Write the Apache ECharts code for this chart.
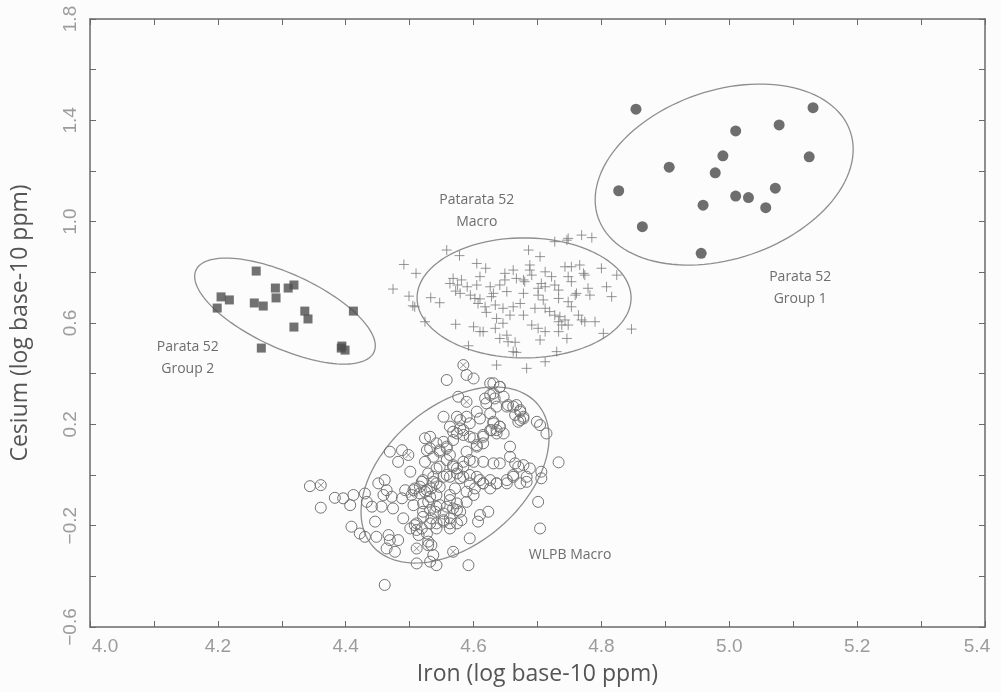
<!DOCTYPE html>
<html>
<head>
<meta charset="utf-8">
<script src="https://cdn.jsdelivr.net/npm/echarts@6/dist/echarts.min.js"></script>
<style>
html,body{margin:0;padding:0;background:#fcfcfc;}
#chart{width:1001px;height:692px;}
</style>
</head>
<body>
<div id="chart"></div>
<script>
// Parata 52 Group 1 (filled circles)
const group1 = [[4.854,1.444],[5.131,1.450],[5.010,1.358],[5.078,1.382],[4.990,1.260],[5.125,1.256],
  [4.906,1.215],[4.978,1.193],[4.827,1.122],[5.072,1.132],[5.010,1.101],[5.030,1.095],[4.959,1.065],
  [5.057,1.055],[4.864,0.980],[4.956,0.875]];
// Parata 52 Group 2 (filled squares)
const group2 = [[4.260,0.805],[4.205,0.703],[4.218,0.691],[4.199,0.659],[4.290,0.738],[4.291,0.699],
  [4.310,0.738],[4.319,0.750],[4.257,0.679],[4.271,0.667],[4.336,0.647],[4.341,0.616],[4.319,0.584],
  [4.412,0.647],[4.268,0.501],[4.393,0.501],[4.399,0.493],[4.394,0.509]];
// Patarata 52 Macro (crosses)
const macro = [[4.558,0.888],[4.578,0.866],[4.491,0.831],[4.510,0.796],[4.474,0.734],[4.499,0.706],
  [4.505,0.668],[4.508,0.664],[4.533,0.700],[4.547,0.680],[4.524,0.605],[4.572,0.595],[4.592,0.510],
  [4.605,0.835],[4.619,0.816],[4.568,0.776],[4.581,0.770],[4.563,0.756],[4.575,0.750],[4.590,0.743],
  [4.572,0.726],[4.579,0.717],[4.610,0.783],[4.605,0.750],[4.595,0.710],[4.602,0.697],[4.610,0.695],
  [4.607,0.677],[4.618,0.664],[4.620,0.642],[4.626,0.743],[4.631,0.717],[4.628,0.704],[4.634,0.671],
  [4.641,0.750],[4.649,0.796],[4.649,0.770],[4.652,0.724],[4.662,0.809],[4.667,0.776],[4.678,0.770],
  [4.673,0.677],[4.646,0.658],[4.657,0.631],[4.662,0.664],[4.678,0.631],[4.636,0.618],[4.646,0.599],
  [4.634,0.579],[4.610,0.566],[4.615,0.566],[4.600,0.585],[4.641,0.539],[4.652,0.552],[4.654,0.526],
  [4.665,0.524],[4.662,0.487],[4.667,0.484],[4.636,0.434],[4.678,0.717],
  [4.748,0.934],[4.769,0.947],[4.785,0.937],[4.727,0.921],[4.746,0.927],[4.686,0.888],[4.704,0.862],
  [4.688,0.829],[4.688,0.809],[4.691,0.789],[4.680,0.763],[4.712,0.802],[4.722,0.783],[4.743,0.822],
  [4.753,0.822],[4.766,0.829],[4.772,0.796],[4.774,0.789],[4.800,0.816],[4.824,0.789],[4.748,0.783],
  [4.753,0.763],[4.706,0.756],[4.712,0.743],[4.701,0.737],[4.727,0.750],[4.733,0.730],[4.779,0.737],
  [4.782,0.710],[4.808,0.743],[4.816,0.704],[4.759,0.710],[4.761,0.717],[4.733,0.697],[4.748,0.684],
  [4.753,0.664],[4.701,0.710],[4.709,0.691],[4.696,0.658],[4.712,0.658],[4.719,0.645],[4.727,0.631],
  [4.735,0.625],[4.743,0.612],[4.733,0.605],[4.738,0.592],[4.748,0.592],[4.769,0.612],[4.774,0.605],
  [4.790,0.605],[4.764,0.631],[4.691,0.592],[4.701,0.579],[4.712,0.566],[4.704,0.533],[4.746,0.539],
  [4.733,0.566],[4.803,0.559],[4.847,0.576],[4.730,0.487],[4.712,0.447],[4.683,0.421]];
// WLPB Macro (open circles)
const wlpb = [[4.344,-0.044],[4.361,-0.129],[4.383,-0.090],[4.396,-0.092],[4.412,-0.079],
  [4.407,-0.119],[4.430,-0.073],[4.441,-0.125],[4.446,-0.184],[4.433,-0.106],[4.409,-0.204],[4.422,-0.231],
  [4.430,-0.244],[4.448,-0.244],[4.464,-0.290],[4.477,-0.303],[4.467,-0.237],[4.469,-0.257],[4.482,-0.257],
  [4.511,-0.349],[4.461,-0.434],[4.469,0.092],[4.488,0.098],[4.482,0.052],[4.501,0.013],
  [4.451,-0.033],[4.461,-0.020],[4.464,-0.060],[4.459,-0.079],[4.472,-0.086],[4.456,-0.125],[4.474,-0.132],
  [4.488,-0.092],[4.493,-0.060],[4.490,-0.171],[4.506,-0.119],[4.501,-0.211],[4.508,-0.198],
  [4.514,-0.237],[4.519,-0.211],[4.529,-0.277],[4.532,-0.342],[4.524,0.145],[4.532,0.105],
  [4.524,0.052],[4.529,0.006],[4.519,-0.027],[4.524,-0.066],[4.534,-0.053],[4.529,-0.106],[4.521,-0.145],
  [4.534,-0.171],[4.529,-0.263],[4.508,-0.053],[4.516,-0.073],
  [4.589,0.395],[4.600,0.381],[4.558,0.375],[4.631,0.362],[4.641,0.348],[4.626,0.316],[4.618,0.302],
  [4.633,0.302],[4.576,0.309],[4.654,0.276],[4.667,0.276],[4.673,0.250],[4.665,0.237],[4.678,0.223],
  [4.670,0.210],[4.553,0.230],[4.631,0.210],[4.641,0.191],[4.628,0.177],[4.636,0.164],[4.699,0.210],
  [4.704,0.197],[4.714,0.164],[4.605,0.250],[4.610,0.223],[4.594,0.204],[4.579,0.184],[4.568,0.171],
  [4.584,0.158],[4.600,0.145],[4.615,0.158],[4.615,0.125],[4.589,0.092],[4.584,0.052],
  [4.600,0.052],[4.553,0.131],[4.547,0.092],[4.563,0.079],[4.542,0.026],[4.574,0.026],[4.558,0.000],
  [4.579,-0.013],[4.594,0.000],[4.615,0.052],[4.631,0.046],[4.641,0.046],[4.657,0.112],[4.657,0.072],
  [4.665,0.046],[4.670,0.033],[4.678,0.039],[4.688,0.026],[4.683,-0.027],[4.706,0.013],[4.706,-0.013],
  [4.733,0.050],[4.662,0.000],[4.652,-0.020],[4.636,-0.033],[4.626,-0.053],[4.615,-0.033],[4.610,-0.020],
  [4.602,-0.053],[4.589,-0.066],[4.600,-0.079],[4.571,-0.053],[4.563,-0.079],[4.542,-0.079],[4.547,-0.119],
  [4.579,-0.145],[4.563,-0.171],[4.581,-0.178],[4.553,-0.184],[4.542,-0.211],[4.563,-0.211],
  [4.574,-0.191],[4.610,-0.158],[4.623,-0.145],[4.607,-0.184],[4.594,-0.250],[4.537,-0.316],
  [4.542,-0.356],[4.592,-0.356],[4.701,-0.106],[4.704,-0.211],[4.534,-0.277],[4.537,-0.027],
  [4.547,-0.047],[4.540,-0.145],[4.589,-0.106],[4.558,0.105],[4.568,0.039],
  [4.532,0.151],[4.542,0.125],[4.527,0.098],[4.537,0.072],[4.547,0.098],[4.558,0.112],[4.568,0.138],
  [4.574,0.164],[4.584,0.177],[4.579,0.217],[4.589,0.230],[4.574,0.230],[4.563,0.191],[4.558,0.059],
  [4.568,0.033],[4.584,0.033],[4.594,0.059],[4.605,0.112],[4.594,0.151],[4.615,0.151],[4.626,0.177],
  [4.636,0.177],[4.631,0.204],[4.641,0.191],[4.647,0.164],[4.626,0.243],[4.620,0.283],[4.636,0.270],
  [4.631,0.322],[4.626,0.362],[4.641,0.348],[4.647,0.309],[4.652,0.270],[4.662,0.270],[4.673,0.256],
  [4.673,0.217],[4.678,0.230],[4.506,-0.060],[4.516,-0.046],[4.527,-0.060],[4.532,-0.086],[4.542,-0.033],
  [4.553,-0.007],[4.563,-0.007],[4.574,0.006],[4.584,-0.007],[4.521,-0.112],[4.532,-0.138],[4.542,-0.125],
  [4.553,-0.152],[4.563,-0.099],[4.574,-0.112],[4.511,-0.191],[4.521,-0.165],[4.532,-0.191],[4.542,-0.191],
  [4.553,-0.178],[4.563,-0.191],[4.574,-0.138],[4.511,-0.217],[4.527,-0.231],[4.558,-0.125],[4.537,-0.007],
  [4.547,0.033],[4.521,-0.020],[4.615,-0.033],[4.626,-0.020],[4.605,-0.007],[4.594,-0.033],[4.636,-0.033],
  [4.652,-0.033],[4.662,-0.007],[4.673,-0.033],[4.683,-0.007]];
// WLPB Macro, crossed circles
const wlpbCrossed = [[4.361,-0.040],[4.498,0.079],[4.511,-0.290],[4.584,0.434],[4.589,0.289],
  [4.605,0.118],[4.568,-0.132],[4.568,-0.303],[4.503,-0.079]];
// Group ellipses: centre (x, y) and two conjugate semi-axis vectors in data units
const ellipses = [
  [4.992, 1.186, 0.1973, 0.1694, 0.0424, -0.3146],
  [4.305, 0.647, 0.1392, -0.1619, -0.0242, -0.1326],
  [4.679, 0.699, 0.1674, 0.0, 0.0, -0.2369],
  [4.571, 0.000, 0.1292, 0.2795, 0.0702, -0.2065]
];
// Group labels: x, y, text
const labels = [
  [4.605, 1.042, 'Patarata 52\nMacro'],
  [5.111, 0.738, 'Parata 52\nGroup 1'],
  [4.153, 0.462, 'Parata 52\nGroup 2'],
  [4.751, -0.316, 'WLPB Macro']
];
const xTicks = {min: 4.0, max: 5.4, step: 0.1};
const yTicks = {min: -0.6, max: 1.8, step: 0.2};

const chart = echarts.init(document.getElementById('chart'), null, {renderer: 'canvas'});
const tickFont = 'Liberation Sans';
const tickCol = '#9c9c9c';
const lineCol = '#6a6a6a';
function xAxisBase(pos) {
  return {
    type: 'value', position: pos, min: xTicks.min, max: xTicks.max, interval: xTicks.step,
    axisLine: {show: true, onZero: false, lineStyle: {color: lineCol, width: 1.5}},
    axisTick: {show: true, inside: true, length: 6, lineStyle: {color: lineCol, width: 1}},
    splitLine: {show: false}
  };
}
function yAxisBase(pos) {
  return {
    type: 'value', position: pos, min: yTicks.min, max: yTicks.max, interval: yTicks.step,
    axisLine: {show: true, onZero: false, lineStyle: {color: lineCol, width: 1.5}},
    axisTick: {show: true, inside: true, length: 6, lineStyle: {color: lineCol, width: 1}},
    splitLine: {show: false}
  };
}
const xb = xAxisBase('bottom');
xb.axisLabel = {
  color: tickCol, fontSize: 19, fontFamily: tickFont, margin: 10,
  formatter: v => {
    if (Math.round((v - xTicks.min) * 10) % 2 !== 0) return '';
    if (Math.abs(v - xTicks.min) < 1e-9) return '{first|' + v.toFixed(1) + '}';
    if (Math.abs(v - xTicks.max) < 1e-9) return '{last|' + v.toFixed(1) + '}';
    return v.toFixed(1);
  },
  rich: {
    first: {color: tickCol, fontSize: 19, fontFamily: tickFont, padding: [0, 0, 0, 30]},
    last: {color: tickCol, fontSize: 19, fontFamily: tickFont, padding: [0, 16, 0, 0]}
  }
};
xb.name = 'Iron (log base-10 ppm)';
xb.nameLocation = 'middle';
xb.nameGap = 36;
xb.nameTextStyle = {color: '#555', fontSize: 23, fontFamily: 'Open Sans'};
const xt = xAxisBase('top'); xt.axisLabel = {show: false};
const yl = yAxisBase('left');
yl.axisLabel = {
  color: tickCol, fontSize: 19, fontFamily: tickFont, rotate: 90, margin: 10,
  formatter: v => (Math.round((v - yTicks.min) * 10) % 4 === 0 ? v.toFixed(1).replace('-', '\u2212') : '')
};
yl.name = 'Cesium (log base-10 ppm)';
yl.nameLocation = 'middle';
yl.nameGap = 58;
yl.nameTextStyle = {color: '#555', fontSize: 23, fontFamily: 'Open Sans'};
const yr = yAxisBase('right'); yr.axisLabel = {show: false};

const markCol = '#747474';
chart.setOption({
  backgroundColor: '#fcfcfc',
  animation: false,
  grid: {left: 90, right: 16, top: 19, bottom: 65, containLabel: false},
  xAxis: [xb, xt],
  yAxis: [yl, yr],
  series: [
    {
      type: 'custom', xAxisIndex: 0, yAxisIndex: 0, data: ellipses, silent: true,
      dimensions: ['cx','cy','ux','uy','vx','vy'], encode: {x: 0, y: 1},
      renderItem: (params, api) => {
        const cx = api.value(0), cy = api.value(1), ux = api.value(2), uy = api.value(3), vx = api.value(4), vy = api.value(5);
        const pts = [];
        for (let i = 0; i < 120; i++) {
          const t = i / 120 * Math.PI * 2, c = Math.cos(t), s = Math.sin(t);
          pts.push(api.coord([cx + ux * c + vx * s, cy + uy * c + vy * s]));
        }
        return {type: 'polygon', shape: {points: pts}, style: {fill: 'none', stroke: '#8e8e8e', lineWidth: 1.3}};
      }
    },
    {
      type: 'scatter', data: wlpb.concat(wlpbCrossed), symbol: 'circle', symbolSize: 11,
      itemStyle: {color: 'rgba(0,0,0,0)', borderColor: markCol, borderWidth: 1, opacity: 1}
    },
    {
      type: 'scatter', data: wlpbCrossed, symbol: 'path://M0,0L10,10M10,0L0,10', symbolSize: 6,
      itemStyle: {color: 'rgba(0,0,0,0)', borderColor: markCol, borderWidth: 1}
    },
    {
      type: 'scatter', data: macro, symbol: 'path://M0,5L10,5M5,0L5,10', symbolSize: 10,
      itemStyle: {color: 'rgba(0,0,0,0)', borderColor: '#7a7a7a', borderWidth: 1}
    },
    {
      type: 'scatter', data: group2, symbol: 'rect', symbolSize: 9,
      itemStyle: {color: '#4e4e4e'}
    },
    {
      type: 'scatter', data: group1, symbol: 'circle', symbolSize: 11,
      itemStyle: {color: '#4a4a4a'}
    },
    {
      type: 'scatter', data: labels.map(l => [l[0], l[1], l[2]]), symbolSize: 0, silent: true,
      label: {show: true, position: 'inside', formatter: p => p.data[2], color: '#484848',
        fontSize: 14, fontFamily: 'Open Sans', lineHeight: 22, align: 'center'}
    }
  ]
});
</script>
</body>
</html>
